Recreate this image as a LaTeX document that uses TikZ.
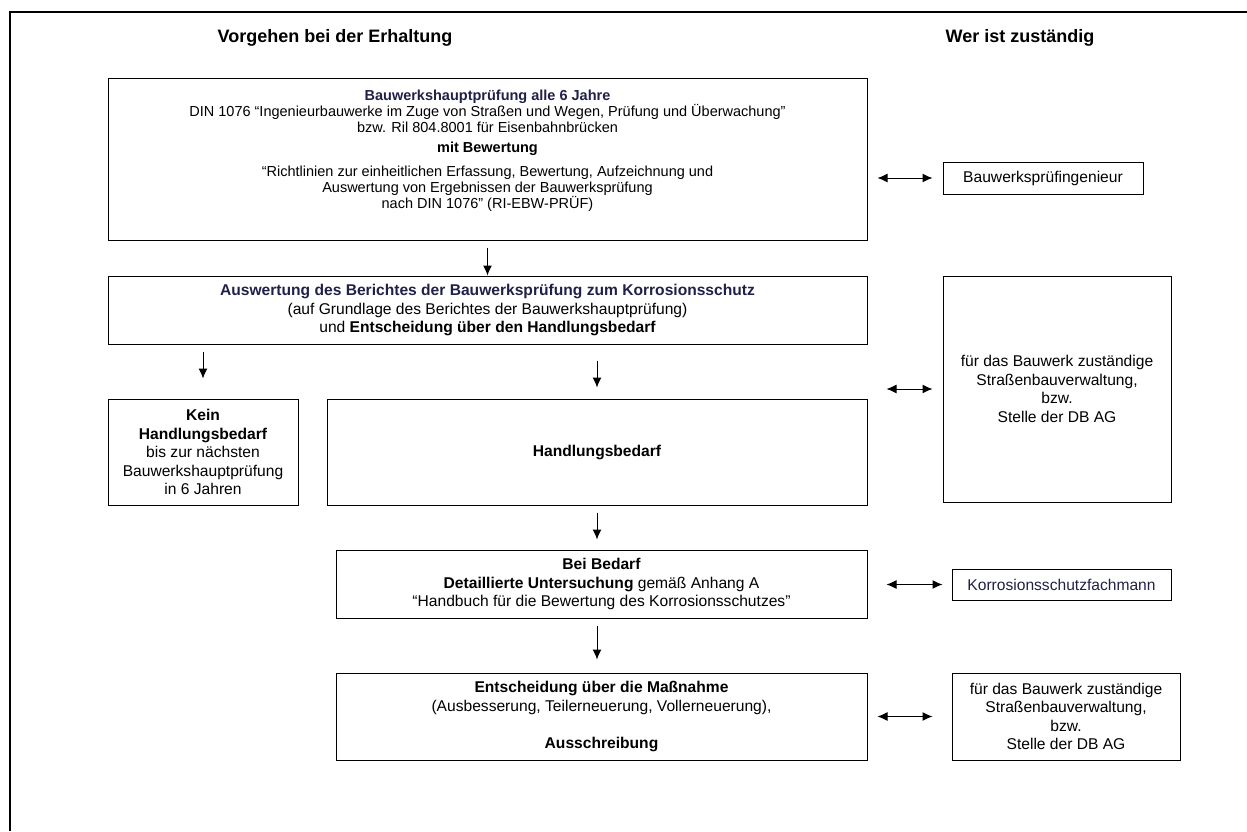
\documentclass[tikz,border=0pt]{standalone}
\usepackage{fontspec}
\setmainfont{Liberation Sans}
\usepackage{xcolor}
\usetikzlibrary{
    arrows.meta,
    positioning
}
\definecolor{navytext}{RGB}{32,32,72}

\begin{document}
\begin{tikzpicture}[x=1pt, y=-1pt,
    box/.style={draw, line width=1pt, align=center, inner sep=0pt,
        font=\fontsize{15.6}{18.5}\selectfont},
    head/.style={font=\bfseries\fontsize{18}{21}\selectfont},
    >={Latex[length=10pt,width=9pt]}]
                                \useasboundingbox (0,0) rectangle (1247,831);
                                \draw[line width=1.6pt] (10,831) -- (10,12) -- (1247,12);
                                \node[head] (hvor) at (335, 38) {Vorgehen bei der Erhaltung};
                                \node[head] (hwer) at (1020, 38) {Wer ist zuständig};
                                \node[box, minimum width=759pt, minimum height=162pt,
                                      font=\fontsize{14.5}{16}\selectfont] (bhp) at (487.5, 159) {%
                                    \textcolor{navytext}{\textbf{Bauwerkshauptprüfung alle 6 Jahre}}\\
                                    DIN 1076 “Ingenieurbauwerke im Zuge von Straßen und Wegen, Prüfung und Überwachung”\\
                                    bzw. Ril 804.8001 für Eisenbahnbrücken\\[4pt]
                                    \textbf{mit Bewertung}\\[8pt]
                                    “Richtlinien zur einheitlichen Erfassung, Bewertung, Aufzeichnung und\\
                                    Auswertung von Ergebnissen der Bauwerksprüfung\\
                                    nach DIN 1076” (RI-EBW-PRÜF)\rule[-19pt]{0pt}{19pt}};
                                \node[box, minimum width=200pt, minimum height=32pt] (bpi) at (1043, 178) {Bauwerksprüfingenieur};
                                \node[box, minimum width=759pt, minimum height=68pt] (ausw) at (487.5, 310) {%
                                    \textcolor{navytext}{\textbf{Auswertung des Berichtes der Bauwerksprüfung zum Korrosionsschutz}}\\
                                    (auf Grundlage des Berichtes der Bauwerkshauptprüfung)\\
                                    und \textbf{Entscheidung über den Handlungsbedarf}};
                                \node[box, minimum width=190pt, minimum height=106pt] (kein) at (203, 452) {%
                                    \textbf{Kein}\\ \textbf{Handlungsbedarf}\\ bis zur nächsten\\ Bauwerkshauptprüfung\\ in 6 Jahren};
                                \node[box, minimum width=540pt, minimum height=106pt] (hb) at (597, 452) {\textbf{Handlungsbedarf}};
                                \node[box, minimum width=228pt, minimum height=226pt] (sbv) at (1057, 389) {%
                                    für das Bauwerk zuständige\\ Straßenbauverwaltung,\\ bzw.\\ Stelle der DB AG};
                                \node[box, minimum width=531pt, minimum height=68pt] (unt) at (601.5, 584) {%
                                    \textbf{Bei Bedarf}\\
                                    \textbf{Detaillierte Untersuchung} gemäß Anhang A\\
                                    “Handbuch für die Bewertung des Korrosionsschutzes”};
                                \node[box, minimum width=219pt, minimum height=31pt] (kfm) at (1061.5, 584.5) {\textcolor{navytext}{Korrosionsschutzfachmann}};
                                \node[box, minimum width=531pt, minimum height=87pt] (mass) at (601.5, 716.5) {%
                                    \textbf{Entscheidung über die Maßnahme}\\
                                    (Ausbesserung, Teilerneuerung, Vollerneuerung),\\[18.5pt]
                                    \textbf{Ausschreibung}};
                                \node[box, minimum width=228pt, minimum height=87pt] (sbv2) at (1066, 716.5) {%
                                    für das Bauwerk zuständige\\ Straßenbauverwaltung,\\ bzw.\\ Stelle der DB AG};
                                \draw[line width=1pt]
                                (bhp) edge[->, shorten <=7pt] (ausw)
                                (ausw.south -| kein) edge[->, shorten <=7pt, shorten >=20pt] (kein)
                                (ausw.south -| hb) edge[->, shorten <=16pt, shorten >=11pt] (hb)
                                (hb) edge[->, shorten <=7pt, shorten >=10pt] (hb |- unt.north)
                                (unt.south -| hb) edge[->, shorten <=7pt, shorten >=13pt] (hb |- mass.north)
                                (bhp.east |- bpi) edge[<->, shorten <=10pt, shorten >=10pt] (bpi)
                                (hb.east |- sbv) edge[<->, shorten <=19pt, shorten >=10pt] (sbv)
                                (unt.east |- kfm) edge[<->, shorten <=19pt, shorten >=9pt] (kfm)
                                (mass.east |- sbv2) edge[<->, shorten <=10pt, shorten >=19pt] (sbv2);
\end{tikzpicture}
\end{document}
